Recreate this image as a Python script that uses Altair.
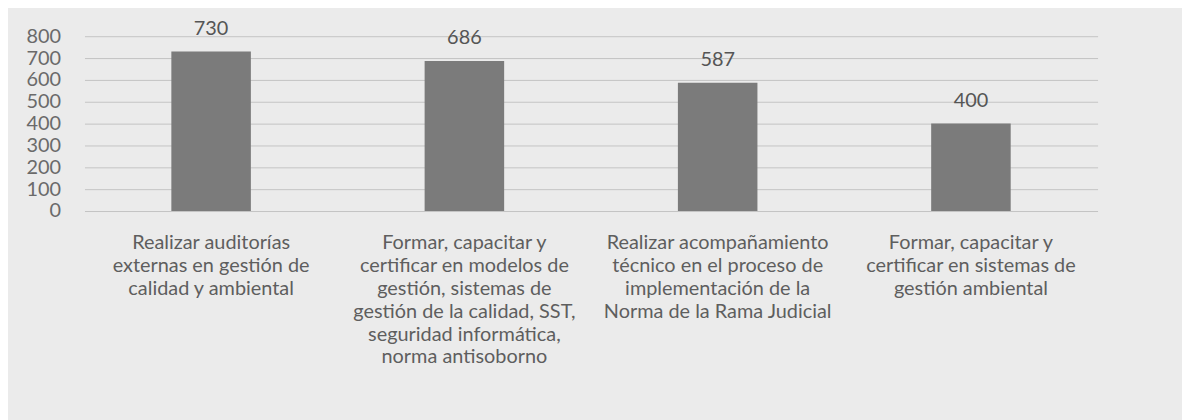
import altair as alt
import pandas as pd

categories = [
    "Realizar auditorías|externas en gestión de|calidad y ambiental",
    "Formar, capacitar y|certificar en modelos de|gestión, sistemas de|gestión de la calidad, SST,|seguridad informática,|norma antisoborno",
    "Realizar acompañamiento|técnico en el proceso de|implementación de la|Norma de la Rama Judicial",
    "Formar, capacitar y|certificar en sistemas de|gestión ambiental",
]
values = [730, 686, 587, 400]
y_ticks = [0, 100, 200, 300, 400, 500, 600, 700, 800]

df = pd.DataFrame({"cat": categories, "val": values})

FONT = "Lato"

x = alt.X(
    "cat:N",
    sort=categories,
    title=None,
    scale=alt.Scale(paddingInner=0.686, paddingOuter=0.343),
    axis=alt.Axis(
        labelExpr="split(datum.label, '|')",
        labelAngle=0,
        labelFont=FONT,
        labelFontSize=20,
        labelLineHeight=23,
        labelColor="#5e5e5e",
        labelPadding=22,
        labelBaseline="top",
        labelLimit=400,
        ticks=False,
        domain=False,
        grid=False,
    ),
)
y = alt.Y(
    "val:Q",
    title=None,
    scale=alt.Scale(domain=[0, 800], nice=False),
    axis=alt.Axis(
        values=y_ticks,
        labelFont=FONT,
        labelFontSize=20,
        labelColor="#6a6a6a",
        labelPadding=24,
        ticks=False,
        domain=False,
        grid=True,
        gridColor="#c4c4c4",
        gridWidth=1,
    ),
)

bars = alt.Chart(df).mark_bar(color="#7b7b7b").encode(x=x, y=y)
text = alt.Chart(df).mark_text(
    font=FONT, fontSize=20, color="#555555", dy=-17, baseline="alphabetic"
).encode(x=x, y=y, text=alt.Text("val:Q"))

chart = (
    alt.layer(bars, text)
    .properties(
        width=1020,
        height=176,
        autosize=alt.AutoSizeParams(type="none"),
        padding={"left": 77, "top": 27, "right": 85, "bottom": 209},
        background="#ebebeb",
    )
    .configure_view(stroke=None)
)

chart.save("out.html", embed_options={"renderer": "svg", "actions": False})
